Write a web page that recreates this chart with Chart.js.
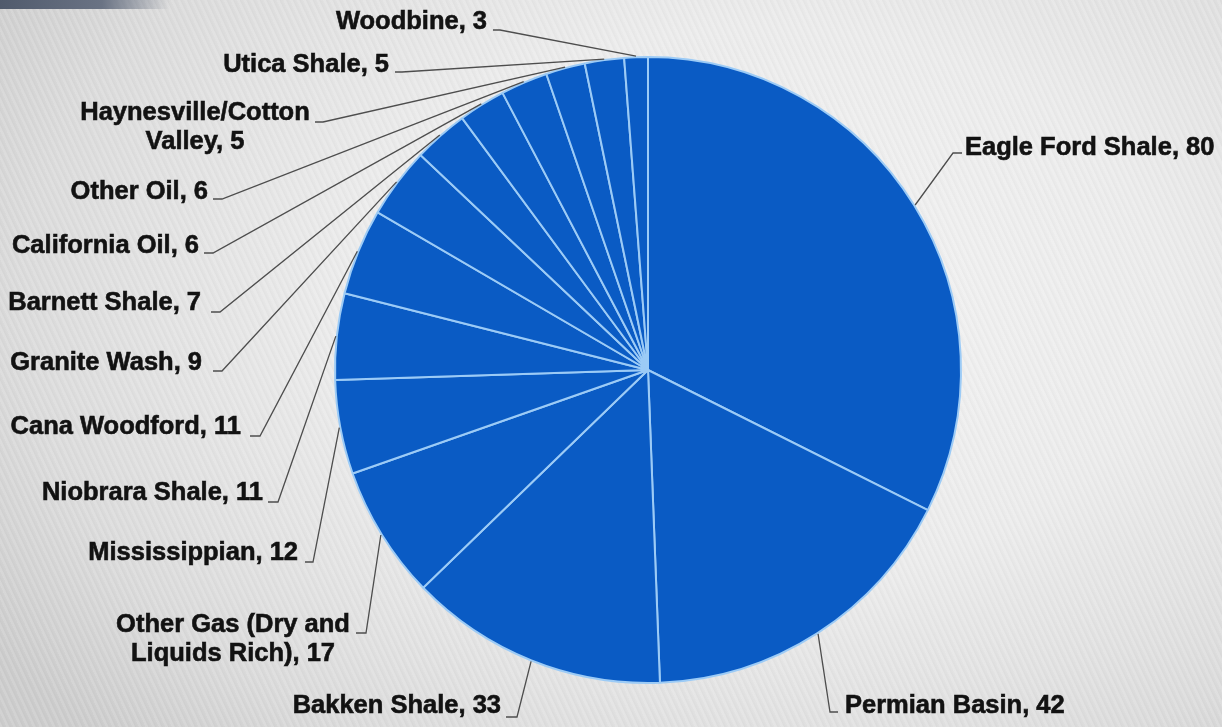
<!DOCTYPE html>
<html>
<head>
<meta charset="utf-8">
<script src="https://cdn.jsdelivr.net/npm/chart.js@4/dist/chart.umd.min.js"></script>
<style>
  html, body { margin: 0; padding: 0; }
  body {
    width: 1222px; height: 727px; overflow: hidden; position: relative;
    background:
      repeating-linear-gradient(65deg, rgba(255,255,255,0.10) 0px, rgba(255,255,255,0.10) 2px, rgba(0,0,0,0.025) 3px, rgba(0,0,0,0.0) 6px),
      radial-gradient(ellipse 75% 85% at 62% 42%, #f3f3f3 0%, #ececec 45%, #dcdcdc 80%, #cdcdcd 100%);
  }
  #corner {
    position: absolute; left: 0; top: 0; width: 170px; height: 9px;
    background: linear-gradient(90deg, #505a6c 0%, #6a7384 60%, rgba(150,155,165,0) 100%);
  }
  #wrap { position: absolute; left: 0; top: 0; width: 1222px; height: 727px; }
</style>
</head>
<body>
<div id="corner"></div>
<div id="wrap"><canvas id="c" width="1222" height="727"></canvas></div>
<script>
// ---- data ----
const categories = [
  'Eagle Ford Shale', 'Permian Basin', 'Bakken Shale',
  'Other Gas (Dry and Liquids Rich)', 'Mississippian', 'Niobrara Shale',
  'Cana Woodford', 'Granite Wash', 'Barnett Shale', 'California Oil',
  'Other Oil', 'Haynesville/Cotton Valley', 'Utica Shale', 'Woodbine'
];
const rigCounts = [80, 42, 33, 17, 12, 11, 11, 9, 7, 6, 6, 5, 5, 3];

// ---- label layout (annotation placement only) ----
const labelLayout = [
  { x: 965, y: 148, align: 'left',  elbow: [953, 153], tickEnd: [962, 153] },
  { x: 845, y: 706, align: 'left',  elbow: [830, 712], tickEnd: [838, 712] },
  { x: 501, y: 706, align: 'right', elbow: [517, 717], tickEnd: [506, 717] },
  { x: 233, y: 625, align: 'center', wrapWords: 4, elbow: [366, 633], tickEnd: [356, 633] },
  { x: 298, y: 553, align: 'right', elbow: [313, 562], tickEnd: [305, 562] },
  { x: 263, y: 493, align: 'right', elbow: [278, 502], tickEnd: [268, 502] },
  { x: 241, y: 427, align: 'right', elbow: [260, 436], tickEnd: [250, 436] },
  { x: 202, y: 363, align: 'right', elbow: [222, 371], tickEnd: [213, 371] },
  { x: 201, y: 303, align: 'right', elbow: [220, 312], tickEnd: [211, 312] },
  { x: 199, y: 246, align: 'right', elbow: [213, 253], tickEnd: [204, 253] },
  { x: 208, y: 192, align: 'right', elbow: [222, 199], tickEnd: [213, 199] },
  { x: 195, y: 113, align: 'center', wrapWords: 1, elbow: [323, 122], tickEnd: [315, 122] },
  { x: 389, y: 65, align: 'right', elbow: [402, 72], tickEnd: [395, 72] },
  { x: 487, y: 22, align: 'right', elbow: [500, 30], tickEnd: [493, 30] }
];

const FONT = 'bold 25.5px "Liberation Sans", Arial, sans-serif';
const LINE_H = 29;

const leaderLabels = {
  id: 'leaderLabels',
  afterDatasetsDraw(chart) {
    const ctx = chart.ctx;
    const meta = chart.getDatasetMeta(0);
    const data = chart.data.datasets[0].data;
    ctx.save();
    meta.data.forEach((arc, i) => {
      const L = labelLayout[i];
      const p = arc.getProps(['x', 'y', 'startAngle', 'endAngle', 'outerRadius'], true);
      const mid = (p.startAngle + p.endAngle) / 2;
      const ex = p.x + Math.cos(mid) * (p.outerRadius + 1);
      const ey = p.y + Math.sin(mid) * (p.outerRadius + 1);
      ctx.strokeStyle = '#4d4d4d';
      ctx.lineWidth = 1.3;
      ctx.beginPath();
      ctx.moveTo(ex, ey);
      ctx.lineTo(L.elbow[0], L.elbow[1]);
      ctx.lineTo(L.tickEnd[0], L.tickEnd[1]);
      ctx.stroke();
      const text = chart.data.labels[i] + ', ' + data[i];
      let lines = [text];
      if (L.wrapWords) {
        const w = text.split(' ');
        lines = [w.slice(0, L.wrapWords).join(' '), w.slice(L.wrapWords).join(' ')];
      }
      ctx.font = FONT;
      ctx.fillStyle = '#121212';
      ctx.strokeStyle = '#121212';
      ctx.lineWidth = 0.6;
      ctx.textAlign = L.align;
      ctx.textBaseline = 'middle';
      lines.forEach((ln, k) => {
        ctx.fillText(ln, L.x, L.y + k * LINE_H);
        ctx.strokeText(ln, L.x, L.y + k * LINE_H);
      });
    });
    ctx.restore();
  }
};

new Chart(document.getElementById('c'), {
  type: 'pie',
  data: {
    labels: categories,
    datasets: [{
      data: rigCounts,
      backgroundColor: '#0a5bc4',
      borderColor: '#9ccbf6',
      borderWidth: 2,
      hoverOffset: 0,
      offset: 0
    }]
  },
  options: {
    responsive: false,
    animation: false,
    radius: 313,
    layout: { padding: { left: 335, right: 261, top: 57, bottom: 44 } },
    plugins: { legend: { display: false }, tooltip: { enabled: false } },
    events: []
  },
  plugins: [leaderLabels]
});
</script>
</body>
</html>
